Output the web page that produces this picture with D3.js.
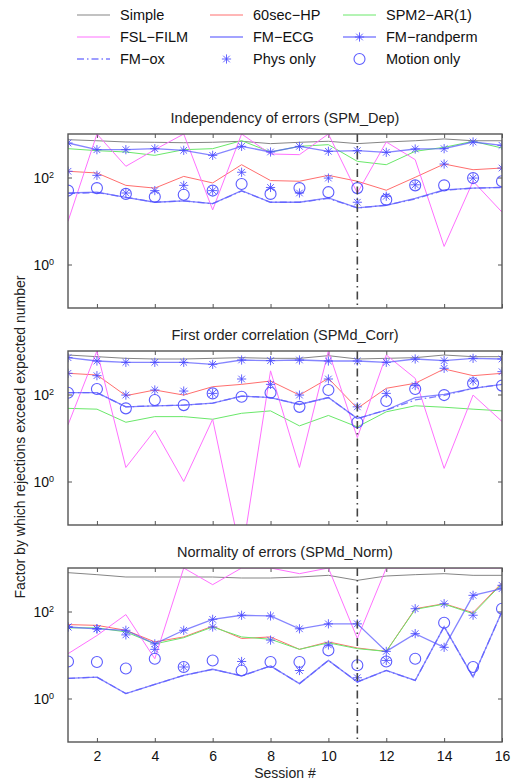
<!DOCTYPE html>
<html>
<head>
<meta charset="utf-8">
<script src="https://cdn.jsdelivr.net/npm/d3@7"></script>
<style>
body { margin: 0; background: #fff; font-family: "Liberation Sans", Arial, sans-serif; }
</style>
</head>
<body>
<svg width="524" height="781"></svg>
<script>
// sessions and ticks
const sessions = [1,2,3,4,5,6,7,8,9,10,11,12,13,14,15,16];
const xTicks = [2,4,6,8,10,12,14,16];
const yTicks = [1, 100];
const markSession = 11;

// Independency of errors (SPM_Dep)
const depSimple = [740,700,655,645,630,645,680,600,645,680,600,655,700,770,700,700];
const depHP     = [139,127,66,57,106,75,197,85,82,112,82,51,101,204,151,165];
const depAR     = [460,414,386,323,436,460,703,386,520,569,235,197,400,494,678,476];
const depFilm   = [9.8,1000,181,436,1000,18,1000,347,335,1000,44,655,257,2.6,82,16];
const depEcg    = [44,46,35,27,29,25,50,27,27,34,20,23,33,52,57,59];
const depRand   = [621,436,436,460,421,323,520,386,520,400,414,379,452,460,655,549];
const depOx     = [43,45,35,27,29,25,49,27,27,33,20,23,32,51,57,59];
const depPhys   = [139,112,44,50,66,50,132,59,44,97,27,37,68,204,97,165];
const depMotion = [50,57,42,36,40,50,71,42,57,46,57,31,66,66,97,82];

// First order correlation (SPMd_Corr)
const corrSimple = [809,741,678,655,655,678,703,678,678,781,655,678,703,809,741,741];
const corrHP     = [307,281,94,127,97,151,171,204,97,235,48,139,181,386,271,307];
const corrAR     = [48,46,23,31,31,27,37,42,19,33,18,40,55,51,46,42];
const corrFilm   = [20,1000,2.1,15,1.0,27,0.018,350,2.1,1000,10.2,809,235,2.0,97,24];
const corrEcg    = [110,110,52,55,57,63,92,85,59,85,28,44,85,101,139,171];
const corrRand   = [703,589,549,549,549,494,621,600,621,589,589,549,655,600,678,655];
const corrOx     = [110,110,52,55,57,63,92,85,59,85,28,44,75,95,139,171];
const corrPhys   = [307,271,97,127,120,106,227,171,97,227,52,106,160,400,204,335];
const corrMotion = [110,134,48,75,57,106,89,110,52,127,23,71,134,97,181,160];

// Normality of errors (SPMd_Norm)
const normSimple = [781,703,621,621,621,621,589,589,621,678,520,655,703,741,678,678];
const normHP     = [50,48,37,20,26,46,24,26,13.5,20,14.5,12.1,116,151,94,460];
const normAR     = [42,42,34,18,25,44,26,23,13.5,19,14,12.1,112,148,89,436];
const normFilm   = [10.7,28,85,8.2,1000,414,1000,1000,741,1000,24,1000,1000,1000,1000,1000];
const normEcg    = [2.9,3.1,1.3,2.1,3.4,4.7,3.3,5.6,2.2,7.5,2.4,4.4,2.6,45,3.1,100];
const normRand   = [44,40,37,18,37,66,82,79,40,52,52,12.1,31,15,235,335];
const normOx     = [2.9,3.1,1.3,2.1,3.4,4.7,3.3,5.6,2.2,7.5,2.4,4.4,2.6,45,3.1,100];
const normPhys   = [44,40,29,13.5,5.3,44,7.1,22,4.4,17,3.0,7.5,116,151,82,400];
const normMotion = [7.1,6.9,4.9,8.2,5.3,7.5,4.4,6.9,6.9,12.8,5.8,7.1,8.2,55,5.3,116];

const seriesNames = ["Simple","60sec\u2212HP","SPM2\u2212AR(1)","FSL\u2212FILM","FM\u2212ECG","FM\u2212randperm","FM\u2212ox","Phys only","Motion only"];

const BLUE = "#5c5cff";
// how each series is drawn
const styles = [
  {color: "#858585", line: true},
  {color: "#ff6e6e", line: true},
  {color: "#6ae86a", line: true},
  {color: "#ff70ff", line: true},
  {color: BLUE, line: true, opacity: 0.75, width: 1.3},
  {color: BLUE, line: true, marker: "star", opacity: 0.75, width: 1.3},
  {color: BLUE, line: true, dash: "7,3,1.5,3", opacity: 0.8, width: 1.3},
  {color: BLUE, marker: "star"},
  {color: BLUE, marker: "circle"}
];

const panels = [
  {title: "Independency of errors (SPM_Dep)", top: 134,
   data: [depSimple, depHP, depAR, depFilm, depEcg, depRand, depOx, depPhys, depMotion]},
  {title: "First order correlation (SPMd_Corr)", top: 351,
   data: [corrSimple, corrHP, corrAR, corrFilm, corrEcg, corrRand, corrOx, corrPhys, corrMotion]},
  {title: "Normality of errors (SPMd_Norm)", top: 568,
   data: [normSimple, normHP, normAR, normFilm, normEcg, normRand, normOx, normPhys, normMotion]}
];

const svg = d3.select("svg");
const left = 68, right = 502, ph = 174;
const x = d3.scaleLinear().domain([1, 16]).range([left, right]);

function starPath(s) {
  const a = s * 0.72;
  return `M${-s},0H${s}M0,${-s}V${s}M${-a},${-a}L${a},${a}M${-a},${a}L${a},${-a}`;
}

function drawMarker(g, type, cx, cy, color) {
  if (type === "star") {
    g.append("path").attr("d", starPath(4.6))
      .attr("transform", `translate(${cx},${cy})`)
      .attr("stroke", color).attr("stroke-width", 1).attr("fill", "none").attr("opacity", 0.85);
  } else {
    g.append("circle").attr("cx", cx).attr("cy", cy).attr("r", 5.5)
      .attr("stroke", color).attr("stroke-width", 1.1).attr("fill", "none").attr("opacity", 0.9);
  }
}

panels.forEach((p, pi) => {
  const y = d3.scaleLog().domain([0.1, 1000]).range([p.top + ph, p.top]);
  const g = svg.append("g");

  g.append("clipPath").attr("id", "clip" + pi)
    .append("rect").attr("x", left).attr("y", p.top).attr("width", right - left).attr("height", ph);

  // title
  g.append("text").attr("x", (left + right) / 2).attr("y", p.top - 11)
    .attr("text-anchor", "middle").attr("font-size", "14.5px").attr("fill", "#222")
    .text(p.title);

  // axes with inward ticks
  const bottom = g.append("g").attr("transform", `translate(0,${p.top + ph})`)
    .call(d3.axisBottom(x).tickValues(xTicks).tickSize(-4).tickPadding(9)
      .tickFormat(pi === 2 ? d3.format("d") : ""));
  g.append("g").attr("transform", `translate(0,${p.top})`)
    .call(d3.axisTop(x).tickValues(xTicks).tickSize(-4).tickFormat(""));
  const yl = g.append("g").attr("transform", `translate(${left},0)`)
    .call(d3.axisLeft(y).tickValues(yTicks).tickSize(-4).tickFormat(""));
  g.append("g").attr("transform", `translate(${right},0)`)
    .call(d3.axisRight(y).tickValues(yTicks).tickSize(-4).tickFormat(""));

  g.selectAll(".domain").remove();
  g.selectAll(".tick line").attr("stroke", "#555");
  bottom.selectAll(".tick text").attr("font-size", "14px").attr("fill", "#111")
    .attr("font-family", "Liberation Sans, Arial, sans-serif");

  yl.selectAll(".tick").each(function(d) {
    const t = d3.select(this).select("text")
      .attr("font-size", "14px").attr("fill", "#111").attr("x", -14).attr("dy", "0.35em")
      .attr("font-family", "Liberation Sans, Arial, sans-serif");
    t.text("10");
    t.append("tspan").attr("dy", "-0.55em").attr("font-size", "9px").text(Math.round(Math.log10(d)));
  });

  // series
  const plot = g.append("g").attr("clip-path", `url(#clip${pi})`);
  const line = d3.line().x((d, i) => x(sessions[i])).y(d => y(d));

  styles.forEach((s, si) => {
    const vals = p.data[si];
    if (s.line) {
      plot.append("path").datum(vals).attr("d", line)
        .attr("fill", "none").attr("stroke", s.color)
        .attr("stroke-width", s.width || 1)
        .attr("stroke-opacity", s.opacity || 1)
        .attr("stroke-dasharray", s.dash || null);
    }
    if (s.marker) {
      vals.forEach((v, i) => drawMarker(plot, s.marker, x(sessions[i]), y(v), "#4a4aff"));
    }
  });

  // session marker line
  plot.append("line").attr("x1", x(markSession)).attr("x2", x(markSession))
    .attr("y1", p.top).attr("y2", p.top + ph)
    .attr("stroke", "#444").attr("stroke-width", 1.6).attr("stroke-dasharray", "8,4,1.5,4");

  // box
  g.append("rect").attr("x", left).attr("y", p.top).attr("width", right - left).attr("height", ph)
    .attr("fill", "none").attr("stroke", "#555").attr("stroke-width", 1.4);
});

// x label
svg.append("text").attr("x", (left + right) / 2).attr("y", 778)
  .attr("text-anchor", "middle").attr("font-size", "14px").attr("fill", "#222").text("Session #");

// y label
svg.append("text").attr("transform", "translate(25,437) rotate(-90)")
  .attr("text-anchor", "middle").attr("font-size", "14px").attr("fill", "#222")
  .text("Factor by which rejections exceed expected number");

// legend
const legCols = [77, 210, 343];
const legRows = [15, 37, 59];
styles.forEach((s, i) => {
  const lx = legCols[i % 3], ly = legRows[Math.floor(i / 3)];
  const lg = svg.append("g");
  if (s.line) {
    lg.append("line").attr("x1", lx).attr("x2", lx + 33).attr("y1", ly).attr("y2", ly)
      .attr("stroke", s.color).attr("stroke-width", s.width || 1)
      .attr("stroke-opacity", s.opacity || 1).attr("stroke-dasharray", s.dash || null);
  }
  if (s.marker) drawMarker(lg, s.marker, lx + 16.5, ly, "#4a4aff");
  lg.append("text").attr("x", lx + 43).attr("y", ly + 5)
    .attr("font-size", "14.5px").attr("fill", "#111").text(seriesNames[i]);
});
</script>
</body>
</html>
